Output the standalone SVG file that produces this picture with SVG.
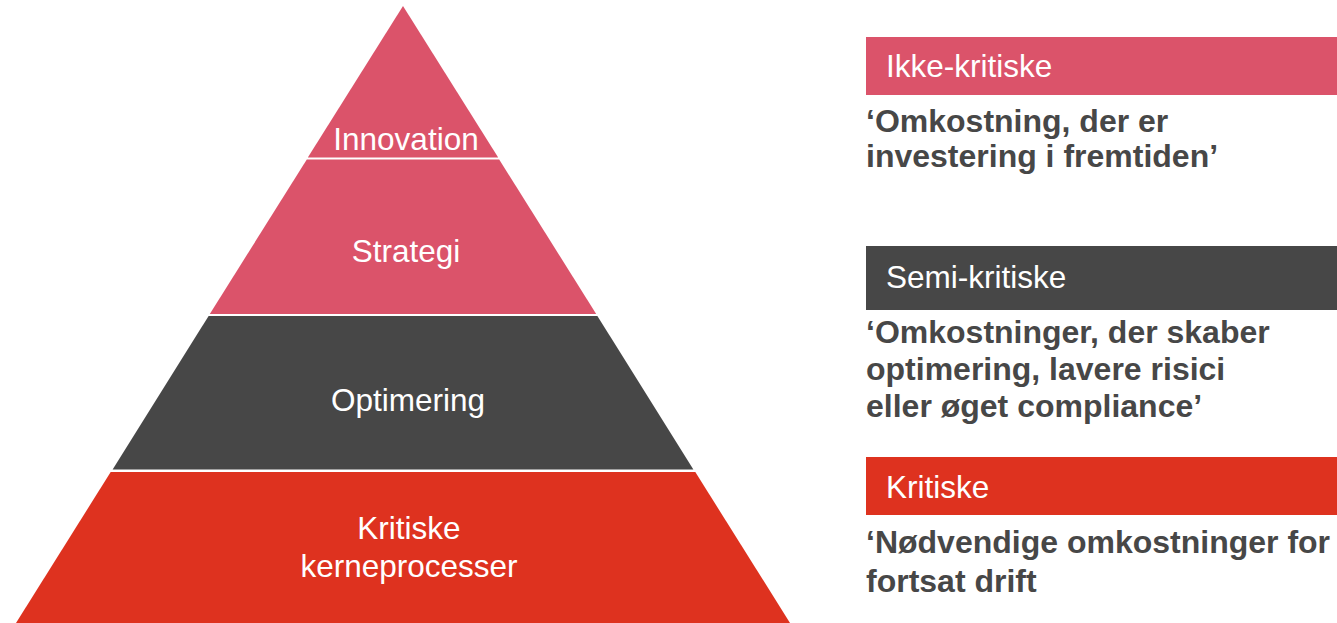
<svg xmlns="http://www.w3.org/2000/svg" width="1337" height="623" viewBox="0 0 1337 623">
<style>
.lbl{font-family:"Liberation Sans",Arial,sans-serif;font-size:31.5px;fill:#ffffff}
.mid{text-anchor:middle}
.q{font-family:"Liberation Sans",Arial,sans-serif;font-size:32px;font-weight:bold;fill:#474747}
.pink{fill:#DB536A}
.dark{fill:#474747}
.red{fill:#DE321F}
</style>
<rect width="1337" height="623" fill="#ffffff"/>
<g id="layer-innovation">
<polygon class="pink" points="403,6 498.2,157.5 307.8,157.5"/>
<text class="lbl mid" x="406" y="150">Innovation</text>
</g>
<g id="layer-strategi">
<polygon class="pink" points="306.8,159.5 499.2,159.5 596.2,314 209.8,314"/>
<text class="lbl mid" x="406" y="262">Strategi</text>
</g>
<g id="layer-optimering">
<polygon class="dark" points="208.6,316 597.4,316 693.4,469.5 112.6,469.5"/>
<text class="lbl mid" x="408" y="411">Optimering</text>
</g>
<g id="layer-kritiske">
<polygon class="red" points="110.7,472 695.3,472 790,623 16,623"/>
<text class="lbl mid" x="409" y="539">Kritiske</text>
<text class="lbl mid" x="409" y="577">kerneprocesser</text>
</g>
<g id="ikke-kritiske">
<rect class="pink" x="866" y="37" width="471" height="58"/>
<text class="lbl" x="886" y="77">Ikke-kritiske</text>
<text class="q" x="866" y="132">‘Omkostning, der er</text>
<text class="q" x="866" y="167">investering i fremtiden’</text>
</g>
<g id="semi-kritiske">
<rect class="dark" x="866" y="246" width="471" height="64"/>
<text class="lbl" x="886" y="288">Semi-kritiske</text>
<text class="q" x="866" y="343">‘Omkostninger, der skaber</text>
<text class="q" x="866" y="380">optimering, lavere risici</text>
<text class="q" x="866" y="417">eller øget compliance’</text>
</g>
<g id="kritiske">
<rect class="red" x="866" y="457" width="471" height="58"/>
<text class="lbl" x="886" y="498">Kritiske</text>
<text class="q" x="866" y="553">‘Nødvendige omkostninger for</text>
<text class="q" x="866" y="592">fortsat drift</text>
</g>
<g id="connectors"/>
</svg>
